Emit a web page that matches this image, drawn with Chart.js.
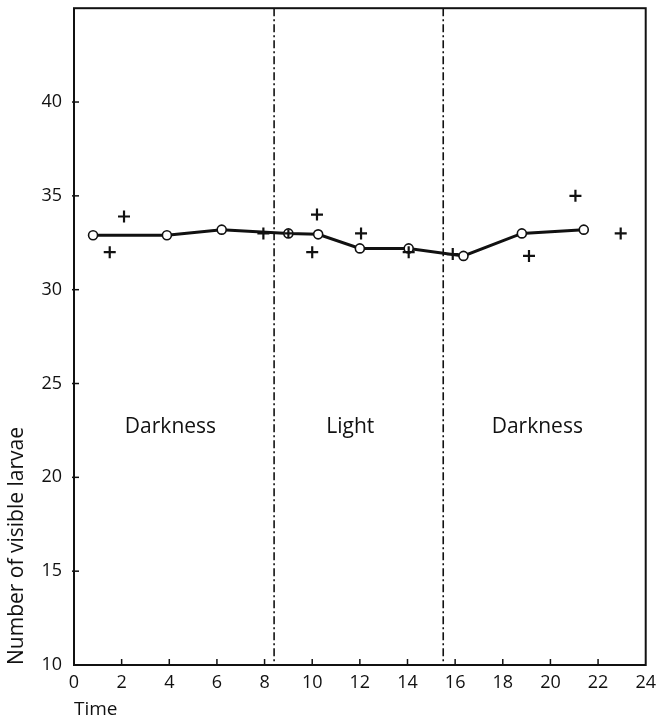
<!DOCTYPE html>
<html lang="en">
  <head>
    <meta charset="UTF-8" />
    <title>Visible larvae</title>
    <script src="https://cdn.jsdelivr.net/npm/chart.js"></script>
    <style>
      html, body { margin: 0; padding: 0; background: #fff; }
      #wrap { width: 663px; height: 721px; }
    </style>
  </head>
  <body>
    <div id="wrap"><canvas id="larvaeChart" width="663" height="721"></canvas></div>

    <script>
      // means (circles joined by the line)
      const meanTime = [0.8, 3.9, 6.2, 9.0, 10.25, 12.0, 14.05, 16.35, 18.8, 21.4];
      const meanCount = [32.9, 32.9, 33.2, 33.0, 32.95, 32.2, 32.2, 31.8, 33.0, 33.2];

      // single counts (crosses)
      const countTime = [1.5, 2.1, 7.95, 9.0, 10.0, 10.2, 12.05, 14.05, 15.9, 19.1, 21.05, 22.95];
      const countValue = [32.0, 33.9, 33.0, 33.0, 32.0, 34.0, 33.0, 32.0, 31.9, 31.8, 35.0, 33.0];

      // light / dark periods
      const dividerTime = [8.4, 15.5];
      const periodLabels = ["Darkness", "Light", "Darkness"];
      const periodTime = [4.05, 11.6, 19.45];
      const periodLabelY = 22.7;

      const FONT = "'Open Sans', 'DejaVu Sans', sans-serif";

      // frame, inward ticks, dash-dot dividers and period names
      const decorations = {
        id: "decorations",
        beforeDatasetsDraw(chart) {
          const { ctx, chartArea: a, scales } = chart;
          const x = scales.x, y = scales.y;
          ctx.save();
          ctx.strokeStyle = "#111";
          ctx.lineWidth = 1.6;
          ctx.setLineDash([8, 3, 2, 3]);
          dividerTime.forEach((t) => {
            const px = x.getPixelForValue(t);
            ctx.beginPath();
            ctx.moveTo(px, a.top);
            ctx.lineTo(px, a.bottom);
            ctx.stroke();
          });
          ctx.setLineDash([]);

          ctx.fillStyle = "#111";
          ctx.font = "21px " + FONT;
          ctx.textAlign = "center";
          ctx.textBaseline = "middle";
          periodLabels.forEach((label, i) => {
            ctx.fillText(label, x.getPixelForValue(periodTime[i]), y.getPixelForValue(periodLabelY));
          });
          ctx.restore();
        },
        afterDraw(chart) {
          const { ctx, chartArea: a, scales } = chart;
          ctx.save();
          ctx.strokeStyle = "#111";
          ctx.lineWidth = 2;
          ctx.strokeRect(a.left, a.top, a.right - a.left, a.bottom - a.top);
          ctx.lineWidth = 1.5;
          scales.x.ticks.forEach((t) => {
            if (t.value <= 0 || t.value >= 24) return;
            const px = scales.x.getPixelForValue(t.value);
            ctx.beginPath();
            ctx.moveTo(px, a.bottom);
            ctx.lineTo(px, a.bottom - 6);
            ctx.stroke();
          });
          scales.y.ticks.forEach((t) => {
            if (t.value <= 10 || t.value > 40) return;
            const py = scales.y.getPixelForValue(t.value);
            ctx.beginPath();
            ctx.moveTo(a.left - 2, py);
            ctx.lineTo(a.left + 5, py);
            ctx.stroke();
          });
          ctx.restore();
        },
      };

      const ctx = document.getElementById("larvaeChart").getContext("2d");
      new Chart(ctx, {
        type: "scatter",
        data: {
          datasets: [
            {
              label: "Mean",
              type: "line",
              data: meanTime.map((t, i) => ({ x: t, y: meanCount[i] })),
              borderColor: "#111",
              borderWidth: 3,
              pointRadius: 4.5,
              pointBorderWidth: 1.6,
              pointBackgroundColor: "#fff",
              pointBorderColor: "#111",
              tension: 0,
              fill: false,
              order: 1,
            },
            {
              label: "Counts",
              data: countTime.map((t, i) => ({ x: t, y: countValue[i] })),
              pointStyle: "cross",
              pointRadius: (c) => (c.dataIndex === 3 ? 4 : 6),
              borderColor: "#111",
              pointBorderWidth: 2.2,
              borderWidth: 2.2,
              order: 0,
            },
          ],
        },
        options: {
          responsive: false,
          animation: false,
          events: [],
          layout: { padding: { top: 7, right: 16, left: 0, bottom: 0 } },
          plugins: {
            legend: { display: false },
            tooltip: { enabled: false },
          },
          scales: {
            x: {
              type: "linear",
              min: 0,
              max: 24,
              border: { display: false },
              grid: { display: false, drawTicks: false },
              ticks: {
                stepSize: 2,
                color: "#111",
                padding: 7,
                font: { size: 18, family: FONT },
              },
              title: {
                display: true,
                text: "Time",
                align: "start",
                color: "#111",
                font: { size: 19, family: FONT },
                padding: { top: 0, bottom: 0 },
              },
              afterFit(scale) {
                scale.height = 56;
              },
            },
            y: {
              min: 10,
              max: 45,
              border: { display: false },
              grid: { display: false, drawTicks: false },
              ticks: {
                stepSize: 5,
                color: "#111",
                padding: 12,
                font: { size: 18, family: FONT },
                callback: (v) => (v > 40 ? null : v),
              },
              title: {
                display: true,
                text: "Number of visible larvae",
                align: "start",
                color: "#111",
                font: { size: 21, family: FONT },
                padding: { top: 4, bottom: 0 },
              },
              afterFit(scale) {
                scale.width = 74;
                scale.paddingTop = 0;
                scale.paddingBottom = 0;
              },
            },
          },
        },
        plugins: [decorations],
      });
    </script>
  </body>
</html>
